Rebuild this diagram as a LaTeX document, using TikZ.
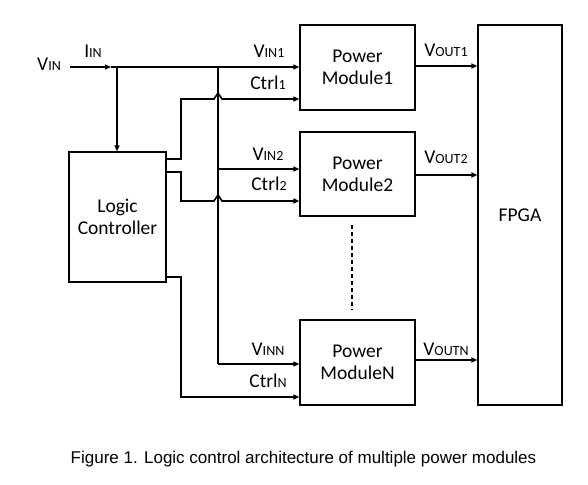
\documentclass[tikz,border=0pt]{standalone}
\usepackage{fontspec}
\setmainfont{Carlito}
\newfontfamily\capfont{Liberation Sans}
\usetikzlibrary{arrows.meta}
\newcommand{\sm}[1]{{\fontsize{14}{14}\selectfont #1}}
\tikzset{
  blk/.style={draw, line width=1.2pt, align=center, font=\fontsize{19.5}{22}\selectfont, inner sep=0pt},
  lbl/.style={anchor=base, inner sep=0pt, font=\fontsize{19.5}{20}\selectfont},
  wire/.style={line width=1.2pt},
  cwire/.style={line width=1.6pt},
  arr/.style={-{Triangle[length=6pt,width=5pt]}},
}
\begin{document}
\begin{tikzpicture}[x=1pt,y=-1pt]
\useasboundingbox (0,0) rectangle (588,484);
% blocks
\node[blk, minimum width=97pt, minimum height=130pt] (lc) at (117.5,217) {Logic\\Controller};
\node[blk, minimum width=115pt, minimum height=85pt] (pm1) at (357.5,67.5) {Power\\Module1};
\node[blk, minimum width=115pt, minimum height=84pt] (pm2) at (357.5,174) {Power\\Module2};
\node[blk, minimum width=115pt, minimum height=85pt] (pmn) at (357.5,362.5) {Power\\ModuleN};
\node[blk, minimum width=84pt, minimum height=380pt] (fpga) at (520,215) {FPGA};
% coordinates
\coordinate (vin) at (70,67);
\coordinate (ia) at (111,67);
\coordinate (ja) at (117,67);
\coordinate (jb) at (218,67);
\coordinate (b2) at (218,169);
\coordinate (bn) at (218,364);
% input line
\draw[wire,arr] (vin) -- (ia);
\draw[wire,arr] (ia) -- (pm1.west |- vin);
\draw[wire,arr] (ja) -- (lc.north -| ja);
% vertical bus
\draw[wire] (jb) -- (bn);
\draw[wire,arr] (b2) -- (pm2.west |- b2);
\draw[wire,arr] (bn) -- (pmn.west |- bn);
% control lines
\draw[cwire,arr] (lc.east |- 0,159) -- (181,159) -- (181,99) -- (214,99) -- (218,93) -- (222,99) -- (pm1.west |- 0,99);
\draw[cwire,arr] (lc.east |- 0,172) -- (181,172) -- (181,201) -- (214,201) -- (218,195) -- (222,201) -- (pm2.west |- 0,201);
\draw[cwire,arr] (lc.east |- 0,277) -- (181,277) -- (181,397) -- (pmn.west |- 0,397);
% outputs
\draw[cwire,arr] (pm1.east |- 0,66) -- (fpga.west |- 0,66);
\draw[cwire,arr] (pm2.east |- 0,175) -- (fpga.west |- 0,175);
\draw[cwire,arr] (pmn.east |- 0,360) -- (fpga.west |- 0,360);
% dashed
\draw[line width=1.4pt, dash pattern=on 4pt off 3pt] (352,225) -- (352,310);
% labels
\node[lbl] (tvin) at (49,71) {V\sm{IN}};
\node[lbl] (tiin) at (93,58) {I\sm{IN}};
\node[lbl] (tv1) at (269,58) {V\sm{IN1}};
\node[lbl] (tc1) at (268,90) {Ctrl\sm{1}};
\node[lbl] (tv2) at (268,160) {V\sm{IN2}};
\node[lbl] (tc2) at (269,190) {Ctrl\sm{2}};
\node[lbl] (tvn) at (268,355) {V\sm{INN}};
\node[lbl] (tcn) at (268,387) {Ctrl\sm{N}};
\node[lbl] (to1) at (446,57) {V\sm{OUT1}};
\node[lbl] (to2) at (446,163) {V\sm{OUT2}};
\node[lbl] (ton) at (446,355) {V\sm{OUTN}};
% caption
\node[anchor=base, inner sep=0pt, font=\capfont\fontsize{17}{20}\selectfont] (cap) at (303.5,463) {Figure 1. Logic control architecture of multiple power modules};
\end{tikzpicture}
\end{document}
